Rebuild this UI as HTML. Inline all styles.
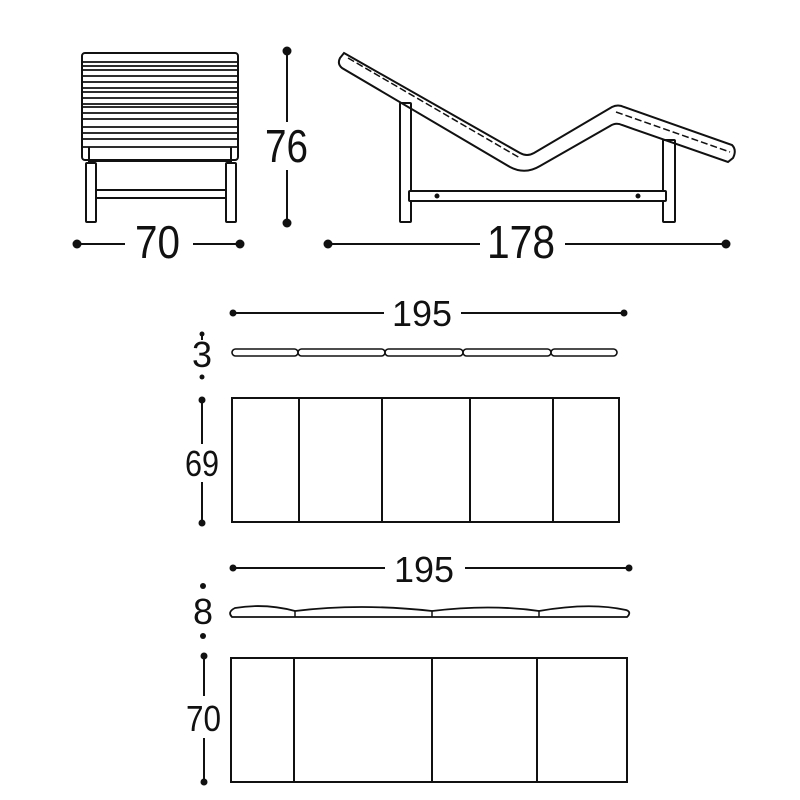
<!DOCTYPE html>
<html><head><style>html,body{margin:0;padding:0;background:#fff}svg{display:block}</style></head>
<body>
<svg width="800" height="800" viewBox="0 0 800 800" xmlns="http://www.w3.org/2000/svg" font-family="'Liberation Sans Narrow','Liberation Sans',sans-serif" fill="none" stroke="#111" stroke-width="2">
<!-- Front view -->
<rect x="82" y="53" width="156" height="107" rx="3"/>
<g stroke-width="1.8">
<line x1="83" y1="62" x2="237" y2="62"/><line x1="83" y1="66" x2="237" y2="66"/>
<line x1="83" y1="70" x2="237" y2="70"/><line x1="83" y1="76" x2="237" y2="76"/>
<line x1="83" y1="82" x2="237" y2="82"/><line x1="83" y1="88" x2="237" y2="88"/>
<line x1="83" y1="92" x2="237" y2="92"/><line x1="83" y1="98" x2="237" y2="98"/>
<line x1="83" y1="104" x2="237" y2="104"/><line x1="83" y1="107" x2="237" y2="107"/>
<line x1="83" y1="113" x2="237" y2="113"/><line x1="83" y1="119" x2="237" y2="119"/>
<line x1="83" y1="127" x2="237" y2="127"/><line x1="83" y1="133" x2="237" y2="133"/>
<line x1="83" y1="139" x2="237" y2="139"/><line x1="83" y1="147" x2="237" y2="147"/>
</g>
<line x1="89" y1="147" x2="89" y2="164"/><line x1="231" y1="147" x2="231" y2="164"/>
<line x1="89" y1="161" x2="231" y2="161"/>
<rect x="86" y="163" width="10" height="59" rx="1"/>
<rect x="226" y="163" width="10" height="59" rx="1"/>
<line x1="96" y1="190" x2="226" y2="190"/><line x1="96" y1="198" x2="226" y2="198"/>
<!-- dim 76 -->
<line x1="287" y1="51" x2="287" y2="122"/><line x1="287" y1="170" x2="287" y2="222"/>
<circle cx="287" cy="51" r="4.5" fill="#111" stroke="none"/><circle cx="287" cy="223" r="4.5" fill="#111" stroke="none"/>
<text x="265" y="162" font-size="46" textLength="43" lengthAdjust="spacingAndGlyphs" fill="#111" stroke="none">76</text>
<!-- dim 70 -->
<line x1="77" y1="244" x2="125" y2="244"/><line x1="193" y1="244" x2="240" y2="244"/>
<circle cx="77" cy="244" r="4.5" fill="#111" stroke="none"/><circle cx="240" cy="244" r="4.5" fill="#111" stroke="none"/>
<text x="135" y="258" font-size="46" textLength="45" lengthAdjust="spacingAndGlyphs" fill="#111" stroke="none">70</text>
<!-- Side view -->
<path d="M344,53 L520,153 Q527,157 534,153 L612,107 Q618,104 624,107 L732,145 Q737,150 733,158 L728,162 L622,125 Q616,122 610,126 L540,166 Q525,175 510,167 L342,68 Q337,64 340,58 Z"/>
<path d="M348,58 L520,158 M616,112 L730,152" stroke-dasharray="7,3" stroke-width="1.5"/>
<rect x="400" y="103" width="11" height="119" rx="1"/>
<rect x="663" y="140" width="12" height="82" rx="1"/>
<rect x="409" y="191" width="257" height="10" rx="1" fill="#fff"/>
<circle cx="437" cy="196" r="1.5" fill="#111"/><circle cx="638" cy="196" r="1.5" fill="#111"/>
<!-- dim 178 -->
<line x1="328" y1="244" x2="480" y2="244"/><line x1="565" y1="244" x2="726" y2="244"/>
<circle cx="328" cy="244" r="4.5" fill="#111" stroke="none"/><circle cx="726" cy="244" r="4.5" fill="#111" stroke="none"/>
<text x="487" y="258" font-size="46" textLength="68" lengthAdjust="spacingAndGlyphs" fill="#111" stroke="none">178</text>
<!-- 195 first -->
<line x1="233" y1="313" x2="384" y2="313"/><line x1="461" y1="313" x2="624" y2="313"/>
<circle cx="233" cy="313" r="3.5" fill="#111" stroke="none"/><circle cx="624" cy="313" r="3.5" fill="#111" stroke="none"/>
<text x="392" y="326" font-size="36" textLength="60" lengthAdjust="spacingAndGlyphs" fill="#111" stroke="none">195</text>
<g stroke-width="1.6">
<rect x="232" y="349" width="66" height="7" rx="3.5"/>
<rect x="298" y="349" width="87" height="7" rx="3.5"/>
<rect x="385" y="349" width="78" height="7" rx="3.5"/>
<rect x="463" y="349" width="88" height="7" rx="3.5"/>
<rect x="551" y="349" width="66" height="7" rx="3.5"/>
</g>
<line x1="202" y1="334" x2="202" y2="340"/>
<circle cx="202" cy="334" r="2.5" fill="#111" stroke="none"/><circle cx="202" cy="377" r="2.5" fill="#111" stroke="none"/>
<text x="202" y="367" font-size="36" text-anchor="middle" fill="#111" stroke="none">3</text>
<rect x="232" y="398" width="387" height="124"/>
<line x1="299" y1="398" x2="299" y2="522"/><line x1="382" y1="398" x2="382" y2="522"/>
<line x1="470" y1="398" x2="470" y2="522"/><line x1="553" y1="398" x2="553" y2="522"/>
<line x1="202" y1="400" x2="202" y2="444"/><line x1="202" y1="482" x2="202" y2="523"/>
<circle cx="202" cy="400" r="3.5" fill="#111" stroke="none"/><circle cx="202" cy="523" r="3.5" fill="#111" stroke="none"/>
<text x="185" y="476" font-size="36" textLength="34" lengthAdjust="spacingAndGlyphs" fill="#111" stroke="none">69</text>
<!-- 195 second -->
<line x1="233" y1="568" x2="385" y2="568"/><line x1="465" y1="568" x2="629" y2="568"/>
<circle cx="233" cy="568" r="3.5" fill="#111" stroke="none"/><circle cx="629" cy="568" r="3.5" fill="#111" stroke="none"/>
<text x="394" y="582" font-size="36" textLength="60" lengthAdjust="spacingAndGlyphs" fill="#111" stroke="none">195</text>
<path d="M232,617 L627,617 Q632,612 626,610 Q590,602 539,611 Q490,604 432,611 Q360,603 295,611 Q265,603 235,608 Q227,612 232,617 Z" stroke-width="1.8"/>
<line x1="295" y1="611" x2="295" y2="617" stroke-width="1.5"/><line x1="432" y1="611" x2="432" y2="617" stroke-width="1.5"/><line x1="539" y1="611" x2="539" y2="617" stroke-width="1.5"/>
<circle cx="203" cy="586" r="3" fill="#111" stroke="none"/><circle cx="203" cy="636" r="3" fill="#111" stroke="none"/>
<text x="203" y="624" font-size="36" text-anchor="middle" fill="#111" stroke="none">8</text>
<rect x="231" y="658" width="396" height="124"/>
<line x1="294" y1="658" x2="294" y2="782"/><line x1="432" y1="658" x2="432" y2="782"/><line x1="537" y1="658" x2="537" y2="782"/>
<line x1="204" y1="656" x2="204" y2="696"/><line x1="204" y1="738" x2="204" y2="782"/>
<circle cx="204" cy="656" r="3.5" fill="#111" stroke="none"/><circle cx="204" cy="782" r="3.5" fill="#111" stroke="none"/>
<text x="186" y="731" font-size="36" textLength="35" lengthAdjust="spacingAndGlyphs" fill="#111" stroke="none">70</text>
</svg>
</body></html>
